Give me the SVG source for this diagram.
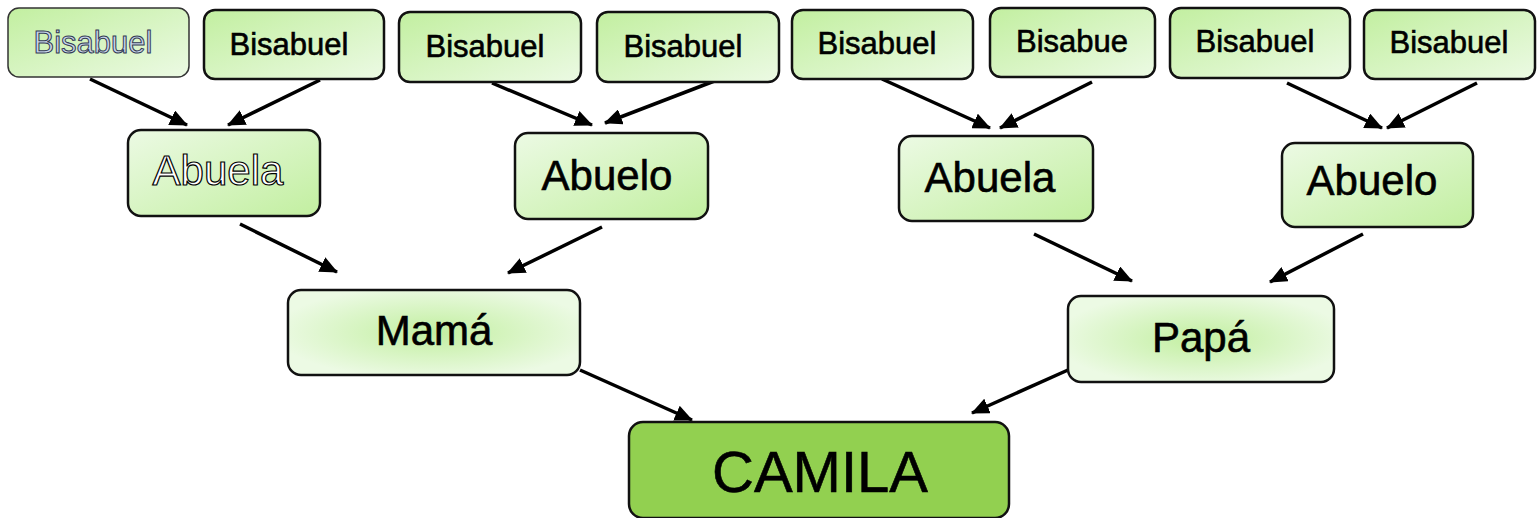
<svg xmlns="http://www.w3.org/2000/svg" width="1537" height="518" viewBox="0 0 1537 518">
<style>
.box{stroke:#111;stroke-width:2.5}
.t{font-family:"Liberation Sans",Arial,sans-serif;fill:#000;text-anchor:middle;stroke:#000;stroke-width:0.6}
.s{font-size:31px}
.m{font-size:42px}
.l{font-size:58px}
.conn line{stroke:#000;stroke-width:3.5;marker-end:url(#ah)}
</style>
<defs>
<linearGradient id="gDown" x1="0" y1="0" x2="1" y2="1">
<stop offset="0" stop-color="#c2efa0"/><stop offset="1" stop-color="#ecfae4"/>
</linearGradient>
<linearGradient id="gUp" x1="0" y1="0" x2="1" y2="1">
<stop offset="0" stop-color="#ecfae4"/><stop offset="1" stop-color="#c2efa0"/>
</linearGradient>
<radialGradient id="gRad" cx="0.5" cy="0.5" r="0.55">
<stop offset="0" stop-color="#c2efa0"/><stop offset="1" stop-color="#ecfae4"/>
</radialGradient>
<marker id="ah" viewBox="0 0 18 16" refX="17" refY="8" markerWidth="18" markerHeight="16" markerUnits="userSpaceOnUse" orient="auto">
<path d="M0,0 L18,8 L0,16 z" fill="#000"/>
</marker>
</defs>

<g id="connectors" class="conn">
<line x1="90" y1="79" x2="187" y2="125"/>
<line x1="320" y1="80" x2="228" y2="125"/>
<line x1="492" y1="83" x2="592" y2="125"/>
<line x1="717" y1="80" x2="605" y2="123"/>
<line x1="882" y1="79" x2="990" y2="128"/>
<line x1="1092" y1="82" x2="1000" y2="128"/>
<line x1="1287" y1="83" x2="1382" y2="128"/>
<line x1="1477" y1="83" x2="1387" y2="128"/>
<line x1="240" y1="224" x2="337" y2="272"/>
<line x1="602" y1="227" x2="508" y2="273"/>
<line x1="1034" y1="234" x2="1132" y2="281"/>
<line x1="1363" y1="234" x2="1270" y2="282"/>
<line x1="580" y1="370" x2="692" y2="420"/>
<line x1="1068" y1="370" x2="972" y2="413"/>
</g>

<g id="bisabuel1">
<rect x="8" y="8" width="181" height="69" rx="11" fill="url(#gDown)" stroke="#333" stroke-width="1.5"/>
<text class="t s" x="93" y="53" style="fill:#c9d6ea;stroke:#333a55;stroke-width:1">Bisabuel</text>
</g>
<g id="bisabuel2">
<rect class="box" x="204" y="10" width="180" height="69" rx="11" fill="url(#gDown)"/>
<text class="t s" x="289" y="55">Bisabuel</text>
</g>
<g id="bisabuel3">
<rect class="box" x="399" y="12" width="182" height="70" rx="11" fill="url(#gDown)"/>
<text class="t s" x="485" y="57">Bisabuel</text>
</g>
<g id="bisabuel4">
<rect class="box" x="597" y="12" width="182" height="70" rx="11" fill="url(#gDown)"/>
<text class="t s" x="683" y="57">Bisabuel</text>
</g>
<g id="bisabuel5">
<rect class="box" x="792" y="10" width="181" height="69" rx="11" fill="url(#gDown)"/>
<text class="t s" x="877" y="54">Bisabuel</text>
</g>
<g id="bisabuel6">
<rect class="box" x="990" y="8" width="165" height="69" rx="11" fill="url(#gDown)"/>
<text class="t s" x="1072" y="52">Bisabue</text>
</g>
<g id="bisabuel7">
<rect class="box" x="1170" y="8" width="180" height="70" rx="11" fill="url(#gDown)"/>
<text class="t s" x="1255" y="52">Bisabuel</text>
</g>
<g id="bisabuel8">
<rect class="box" x="1364" y="10" width="171" height="69" rx="11" fill="url(#gDown)"/>
<text class="t s" x="1449" y="53">Bisabuel</text>
</g>

<g id="abuela1">
<rect class="box" x="128" y="130" width="192" height="86" rx="13" fill="url(#gUp)"/>
<text class="t m" x="218" y="185" style="fill:#fff;stroke:#000;stroke-width:1.2">Abuela</text>
</g>
<g id="abuelo2">
<rect class="box" x="515" y="133" width="193" height="86" rx="13" fill="url(#gUp)"/>
<text class="t m" x="607" y="190">Abuelo</text>
</g>
<g id="abuela3">
<rect class="box" x="899" y="136" width="194" height="85" rx="13" fill="url(#gUp)"/>
<text class="t m" x="990" y="192">Abuela</text>
</g>
<g id="abuelo4">
<rect class="box" x="1282" y="143" width="191" height="84" rx="13" fill="url(#gUp)"/>
<text class="t m" x="1372" y="195">Abuelo</text>
</g>

<g id="mama">
<rect class="box" x="288" y="290" width="292" height="85" rx="13" fill="url(#gRad)"/>
<text class="t m" x="434" y="345">Mamá</text>
</g>
<g id="papa">
<rect class="box" x="1068" y="296" width="266" height="86" rx="13" fill="url(#gRad)"/>
<text class="t m" x="1201" y="352">Papá</text>
</g>

<g id="camila">
<rect class="box" x="629" y="422" width="380" height="96" rx="14" fill="#92d050"/>
<text class="t l" x="820" y="492">CAMILA</text>
</g>
</svg>
